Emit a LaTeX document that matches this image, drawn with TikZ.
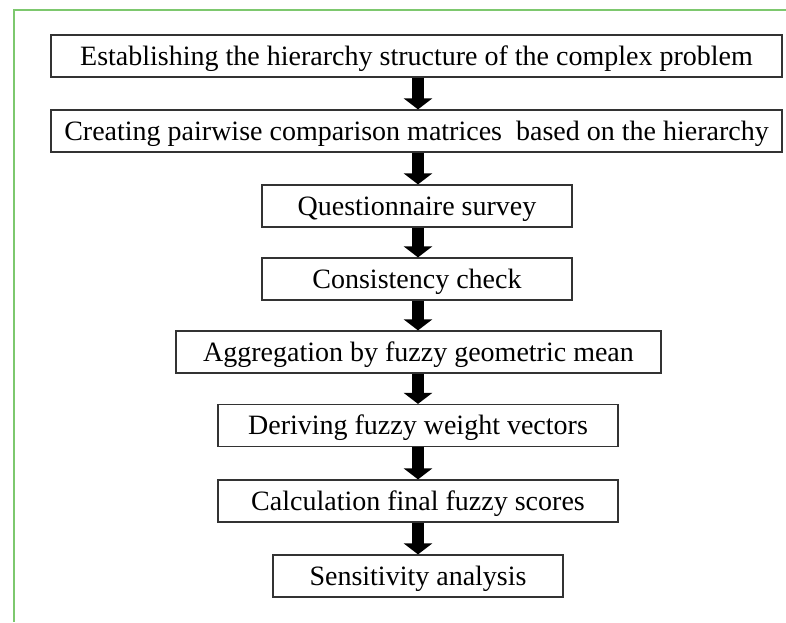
\documentclass[tikz,border=0pt]{standalone}
\usepackage{fontspec}
\setmainfont{Liberation Serif}
\usetikzlibrary{arrows.meta}

\definecolor{framegreen}{RGB}{125,200,110}
\tikzset{
  stepbox/.style={draw=black!80, line width=1.2pt, minimum height=42pt, inner sep=0pt,
    text height=18pt, text depth=0pt, font=\fontsize{28}{32}\selectfont},
  downarrow/.style={line width=12pt, -{Triangle[width=28pt,length=11pt]}}
}

\begin{document}
\begin{tikzpicture}[x=1pt,y=-1pt]
\useasboundingbox (0,0) rectangle (786,622);
\draw [framegreen, line width=1.5pt] (786,10) -- (14,10) -- (14,622);

\node [stepbox, minimum width=731pt] (b1) at (416.5,56) {Establishing the hierarchy structure of the complex problem};
\node [stepbox, minimum width=731pt] (b2) at (416.5,131) {Creating pairwise comparison matrices~ based on the hierarchy};
\node [stepbox, minimum width=310pt] (b3) at (417,206) {Questionnaire survey};
\node [stepbox, minimum width=310pt] (b4) at (417,279) {Consistency check};
\node [stepbox, minimum width=485pt] (b5) at (418.5,352) {Aggregation by fuzzy geometric mean};
\node [stepbox, minimum width=400pt] (b6) at (418,425.5) {Deriving fuzzy weight vectors};
\node [stepbox, minimum width=400pt] (b7) at (418,501) {Calculation final fuzzy scores};
\node [stepbox, minimum width=290pt] (b8) at (418,576) {Sensitivity analysis};

%	arrows between the steps
\draw [downarrow] (b1.south -| 418,0) -- (b2.north -| 418,0);
\draw [downarrow] (b2.south -| 418,0) -- (b3.north -| 418,0);
\draw [downarrow] (b3.south -| 418,0) -- (b4.north -| 418,0);
\draw [downarrow] (b4.south -| 418,0) -- (b5.north -| 418,0);
\draw [downarrow] (b5.south -| 418,0) -- (b6.north -| 418,0);
\draw [downarrow] (b6.south -| 418,0) -- (b7.north -| 418,0);
\draw [downarrow] (b7.south -| 418,0) -- (b8.north -| 418,0);
\end{tikzpicture}
\end{document}
